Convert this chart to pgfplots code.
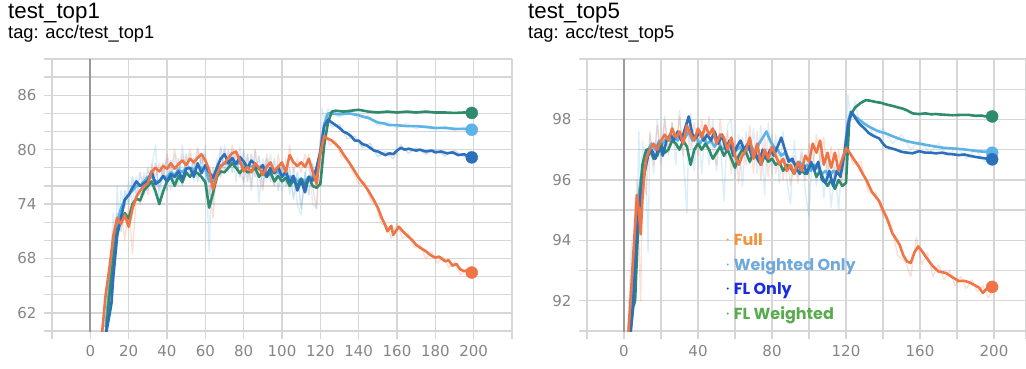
\documentclass[border=0pt]{standalone}
\usepackage{pgfplots}
\pgfplotsset{compat=1.18}
\usepackage{fontspec}
\setmainfont{Liberation Sans}
\newfontfamily\tickfont{DejaVu Sans}
\newfontfamily\legfont{Poppins}
\definecolor{cFull}{HTML}{EF7446}
\definecolor{cWO}{HTML}{5DB3E6}
\definecolor{cFLO}{HTML}{2C6FBA}
\definecolor{cFLW}{HTML}{2E8B6E}
\definecolor{gridc}{HTML}{D6D6D6}
\definecolor{zeroc}{HTML}{9A9A9A}
\definecolor{tickc}{HTML}{858585}
\definecolor{lFull}{HTML}{F2953A}
\definecolor{lWO}{HTML}{6FA8DC}
\definecolor{lFLO}{HTML}{1A2BE0}
\definecolor{lFLW}{HTML}{5AAB4F}
\pgfplotsset{
  tbstyle/.style={
    scale only axis,
    axis line style={draw=none},
    grid=both,
    major grid style={gridc, line width=1.3pt},
    minor grid style={gridc, line width=1.3pt},
    tick align=outside,
    xtick pos=bottom, ytick pos=left,
    major tick length=8pt, minor tick length=8pt,
    minor tick style={gridc, line width=1.3pt},
    major tick style={gridc, line width=1.3pt},
    /pgf/number format/assume math mode=true,
    ticklabel style={font=\tickfont\fontsize{15}{15}\selectfont, text=tickc},
    xticklabel style={yshift=-3pt},
    yticklabel style={xshift=-4pt},
    clip=true,
  },
  ln/.style={line width=2.6pt, line join=round, line cap=round, #1},
  raw/.style={line width=1.4pt, line join=round, #1, opacity=0.22},
  enddot/.style={only marks, mark=*, mark size=6pt, mark options={fill=#1, draw=#1}},
}
\begin{document}
\begin{tikzpicture}
\path[use as bounding box] (0pt,0pt) rectangle (1026pt,368pt);
\node[anchor=base west, inner sep=0pt] at (8pt,350pt) {\fontsize{22.3}{22}\selectfont test\_top1};
\node[anchor=base west, inner sep=0pt] at (8pt,330pt) {\fontsize{18.3}{18}\selectfont tag: acc/test\_top1};
\node[anchor=base west, inner sep=0pt] at (528pt,350pt) {\fontsize{22.3}{22}\selectfont test\_top5};
\node[anchor=base west, inner sep=0pt] at (528pt,330pt) {\fontsize{18.3}{18}\selectfont tag: acc/test\_top5};

% ---------------- top1 ----------------
\begin{axis}[tbstyle, at={(52pt,37pt)}, anchor=south west,
  width=460pt, height=272pt,
  xmin=-20, xmax=220, ymin=60, ymax=90,
  xtick={0,20,...,200}, minor xtick={-20,220},
  ytick={62,68,74,80,86}, minor ytick={60,64,66,70,72,76,78,82,84,88,90},
]
\draw[zeroc, line width=2pt] (axis cs:0,58.8) -- (axis cs:0,90);
\addplot[raw=cWO] coordinates {(6,59.5)(8,63)(10,66)(12,73)(13,69)(14,76)(15,72)(16,75.5)(18,73.5)(20,76.5)(22,74)(24,77)(26,75)(28,77.5)(30,75.5)(32,78)(34,80.5)(36,74)(38,77.5)(40,79)(42,75.5)(44,79.5)(46,76)(48,80.5)(50,77)(52,79.5)(54,76.5)(56,80)(58,78)(60,80.5)(62,68.8)(63,76)(64,74)(66,79)(68,77)(70,80.5)(72,77.5)(74,80)(76,76.5)(78,80.3)(80,76)(82,79.5)(84,75.5)(86,80)(88,74.2)(90,79)(92,77.5)(94,79.5)(96,76)(98,78.5)(100,75.5)(102,79)(104,75)(106,78)(108,74)(110,72.8)(112,77)(114,79.5)(116,74)(118,73.5)(120,81)(121,84.6)(122,83.5)(124,84.5)(126,84)(130,83.6)(135,84.2)(140,83.4)(145,83.8)(150,82.6)(155,83.1)(160,82.4)(165,82.9)(170,82.3)(175,82.7)(180,82.2)(185,82.6)(190,82.1)(195,82.5)(199,82.1)};
\addplot[raw=cFull] coordinates {(8,60)(10,66)(12,71)(14,70)(16,73.5)(18,70)(20,74)(22,68.5)(24,75)(26,74)(28,77)(30,75)(32,78.5)(34,77)(36,78.5)(38,77)(40,79.5)(42,77.5)(44,80)(46,77.5)(48,79.5)(50,78)(52,80)(54,78)(56,80.2)(58,78.5)(60,79.5)(62,76)(64,72.5)(66,78.5)(68,77)(70,80)(72,78)(74,80.5)(76,78.5)(78,77.5)(80,76.5)(82,79.5)(84,76)(86,80)(88,77)(90,75.5)(92,79.5)(94,77.5)(96,76)(98,79.5)(100,77)(102,76.5)(104,80.5)(106,77.5)(108,79)(110,77.5)(112,79.5)(114,78)(116,76)(118,73.5)(120,80)(122,82)(125,80.5)(128,81)(131,79.2)(134,79)(137,77.5)(140,76.2)(143,76.5)(146,74.5)(149,73.8)(152,71.8)(155,71.5)(157,70.2)(160,71.8)(163,70.2)(166,70.8)(169,69.2)(172,69.5)(175,68)(178,68.8)(181,67.5)(184,68.2)(187,67)(190,67.6)(193,66.2)(196,66.8)(199,66.2)};
\addplot[raw=cFLO] coordinates {(8,59)(10,62)(12,68)(14,73)(16,71)(18,75.5)(20,74)(22,77)(24,75)(26,77.5)(28,75)(30,78)(32,76)(34,78.5)(36,75.5)(38,78.5)(40,75.5)(42,78.8)(44,76)(46,79)(48,76)(50,79.5)(52,77)(54,79)(56,76.5)(58,79.5)(60,77)(62,75)(64,78)(66,76.5)(68,80.3)(70,77.5)(72,80)(74,77.5)(76,79.8)(78,77)(80,80)(82,76.5)(84,79.5)(86,77)(88,79.3)(90,76)(92,79)(94,76.5)(96,79)(98,75.5)(100,78.5)(102,76)(104,78)(106,74.5)(108,77.5)(110,73.5)(112,77.5)(114,75)(116,78.5)(118,76)(120,81)(123,83.8)(126,82.5)(130,82.8)(134,81.2)(138,81.5)(142,80.2)(146,80.7)(150,79.2)(154,79.8)(158,79)(162,80.5)(166,79.6)(170,80.2)(175,79.5)(180,80)(185,79.3)(190,79.9)(195,79.2)(199,79.4)};
\addplot[ln=cWO] coordinates {(8,60.5)(10,65)(12,69)(14,72)(16,73.5)(18,74.5)(20,75)(22,75.5)(24,76)(26,76)(28,76.5)(30,77)(32,77)(34,76.5)(36,76.5)(38,77)(40,77)(42,77.5)(44,77.2)(46,77.8)(48,77.5)(50,78)(52,78)(54,77.8)(56,78.2)(58,78)(60,78)(62,76.5)(64,76.5)(66,77.5)(68,78.2)(70,78.5)(72,78.5)(74,78.8)(76,78.5)(78,78.5)(80,78.3)(82,78)(84,78.2)(86,78.2)(88,78)(90,78)(92,77.5)(94,77.8)(96,77.5)(98,77.5)(100,77.2)(102,77.2)(104,77)(106,77)(108,76.5)(110,76.8)(112,76.5)(114,77)(116,77)(118,77.5)(120,79.5)(122,82.8)(124,84)(126,84)(130,83.9)(135,84)(140,83.8)(143,83.6)(145,83.5)(148,83.2)(150,83)(153,82.9)(156,82.7)(160,82.7)(165,82.6)(170,82.6)(175,82.5)(180,82.4)(185,82.4)(190,82.3)(195,82.3)(199,82.2)};
\addplot[ln=cFLW] coordinates {(8,59.5)(10,64)(12,67.8)(14,71.2)(16,72)(18,73)(20,72.4)(22,74)(24,74.6)(26,74.4)(28,75.5)(30,76)(32,76.5)(34,75.4)(36,74)(38,75.4)(40,76.5)(42,77)(44,76)(46,77.1)(48,76.4)(50,77.5)(52,77)(54,77.6)(56,77.4)(58,77)(60,76.4)(62,73.6)(64,75.2)(66,77)(68,77.6)(70,77.5)(72,78)(74,78.5)(76,78)(78,77.4)(80,78)(82,77.5)(84,77.6)(86,78)(88,77)(90,77.6)(92,77)(94,77.5)(96,76.5)(98,77.1)(100,76.5)(102,76.9)(104,76)(106,76.6)(108,76)(110,76.8)(112,76)(114,77)(116,76)(118,75.8)(120,76.2)(122,80.5)(124,83)(126,84.2)(128,84.3)(132,84.2)(136,84.3)(140,84.4)(145,84.2)(150,84.1)(155,84.2)(160,84.1)(165,84.2)(170,84.1)(175,84.2)(180,84.1)(185,84.1)(190,84.05)(195,84.1)(199,84.05)};
\addplot[ln=cFLO] coordinates {(8,59.5)(10,61.8)(11,63)(12,66)(14,70.5)(16,72.5)(18,74.5)(20,75)(22,75.8)(24,76.5)(26,76)(28,76.3)(30,76.6)(32,77.6)(34,76.2)(36,76.5)(38,77.1)(40,76.5)(42,77.3)(44,77)(46,77.6)(48,76.8)(50,77.9)(52,78)(54,77)(56,78.5)(58,77.4)(60,78.3)(62,77.5)(64,76.9)(66,78)(68,79)(70,79.5)(72,78.5)(74,79.1)(76,78.4)(78,79.2)(80,78.7)(82,78)(84,78.8)(86,78.4)(88,77.9)(90,78.3)(92,77)(94,78)(96,77.4)(98,78.1)(100,77)(102,77.6)(104,76.4)(106,77.1)(108,75.5)(110,76.6)(112,75.3)(114,77)(116,76.6)(118,78)(120,79.8)(122,82.6)(124,83.3)(126,83)(128,82.7)(130,82.4)(132,82)(134,81.8)(136,81.5)(138,81)(140,81)(142,80.6)(144,80.5)(146,80.2)(148,79.9)(150,79.8)(152,79.6)(154,79.4)(156,79.6)(158,79.5)(160,79.9)(162,80.2)(164,80)(166,80.1)(168,80)(170,79.9)(172,80)(175,79.8)(178,79.9)(180,79.7)(183,79.8)(186,79.6)(189,79.7)(192,79.4)(195,79.5)(197,79.3)(199,79.15)};
\addplot[ln=cFull] coordinates {(6,59.5)(8,64)(10,67)(12,70.5)(14,72.5)(16,71.8)(18,72.8)(20,71.5)(22,73.5)(24,74.8)(26,75.5)(28,76)(30,76.3)(32,77.6)(34,78)(36,77.6)(38,78.2)(40,77.9)(42,78.5)(44,77.9)(46,78.4)(48,78.8)(50,78.3)(52,79)(54,78.6)(56,79.1)(58,79.5)(60,78.8)(62,77.8)(64,75.6)(66,77.2)(68,78.2)(70,78.5)(72,79.1)(74,79.6)(76,79.8)(78,78.8)(80,77.6)(82,78.1)(84,77.5)(86,78.5)(88,78)(90,77.2)(92,78.1)(94,78.6)(96,77.6)(98,78.1)(100,78.6)(102,77.5)(104,79.4)(106,78.6)(108,78.2)(110,78.6)(112,78.1)(114,79)(116,77.6)(118,76.2)(119,78)(120,79.6)(122,81.5)(124,81.2)(126,81)(128,80.6)(130,80.2)(132,79.5)(135,78.6)(138,77.6)(140,76.9)(143,76.1)(145,75.5)(148,74.4)(150,73.6)(152,72.5)(154,71.6)(155,71)(157,71.6)(158,70.6)(160,71.2)(161,71.5)(163,71)(165,70.6)(168,70)(170,69.5)(172,69.2)(175,68.8)(178,68.3)(180,68.1)(182,68.2)(185,67.7)(187,67.8)(189,67.2)(191,67.4)(193,66.8)(195,66.6)(197,66.7)(199,66.45)};
\addplot[enddot=cFLW] coordinates {(199,84.05)};
\addplot[enddot=cWO] coordinates {(199,82.2)};
\addplot[enddot=cFLO] coordinates {(199,79.15)};
\addplot[enddot=cFull] coordinates {(199,66.45)};
\end{axis}

% ---------------- top5 ----------------
\begin{axis}[tbstyle, at={(587pt,37pt)}, anchor=south west,
  width=439pt, height=272pt,
  xmin=-20, xmax=217.3, ymin=91, ymax=100,
  xtick={0,40,...,200}, minor xtick={-20,20,60,100,140,180,217.3},
  ytick={92,94,96,98}, minor ytick={91,93,95,97,99,100},
]
\draw[zeroc, line width=2pt] (axis cs:0,90.6) -- (axis cs:0,100);
\addplot[raw=cWO] coordinates {(2,91)(4,94)(5,92)(6,95.5)(7,94)(8,97.6)(9,95.5)(10,97.3)(12,96)(13,93.6)(14,97.5)(16,96.2)(18,98)(20,96.5)(22,98.1)(24,96.8)(26,97.9)(28,96.5)(30,98.3)(32,96.8)(34,94.9)(35,97.5)(36,98.2)(38,96.3)(40,98)(42,96.2)(44,97.8)(46,96.5)(48,98)(50,96.3)(52,97.5)(54,95.3)(56,97.8)(58,98)(60,96)(62,97.5)(64,95.8)(66,97.6)(68,96.5)(70,97.7)(72,96.2)(74,97.8)(76,95.5)(78,97.9)(80,96.2)(82,97.5)(84,95.9)(86,97.6)(88,96)(90,95.2)(92,97.3)(94,96.1)(96,97)(98,95.6)(100,94.8)(102,97.1)(104,95.8)(106,96.9)(108,95.4)(110,96.8)(112,95.1)(114,96.5)(116,95)(118,96.8)(120,96)(121,98.8)(123,98)(125,98.6)(127,97.9)(131,97.9)(135,97.5)(140,97.7)(145,97.2)(150,97.5)(155,97.0)(160,97.3)(165,96.9)(170,97.2)(175,96.8)(180,97.1)(185,96.7)(190,97.0)(195,96.6)(199,96.8)};
\addplot[raw=cFull] coordinates {(3,91)(5,93.5)(7,96)(8,94)(9,92)(10,96.2)(12,95.5)(14,97.6)(16,96.5)(18,97.8)(20,96.8)(22,98)(24,96.9)(26,97.9)(28,97)(30,98.1)(32,96.8)(34,98)(36,97)(38,97.9)(40,96.8)(42,98)(44,97.1)(46,98.1)(48,97)(50,96.5)(52,98)(54,96.8)(56,97.6)(58,96.2)(60,97.3)(62,95.9)(64,97.4)(66,96.5)(68,97.8)(70,96.2)(72,97.6)(74,96)(76,97.4)(78,96.1)(80,97.5)(82,96.2)(84,97)(86,96)(88,96.9)(90,95.8)(92,96.8)(94,95.9)(96,96.9)(98,96)(100,97.2)(102,96.4)(104,97.5)(106,96.6)(108,97.4)(110,96.2)(112,97.1)(114,96)(116,97)(118,95.8)(120,97.2)(124,96.5)(128,96.6)(132,95.6)(136,95.6)(140,94.8)(144,94.6)(148,93.5)(152,93.3)(155,92.8)(158,94.1)(161,93.2)(164,93.6)(167,92.8)(170,93.2)(173,92.7)(176,93)(179,92.5)(182,92.8)(185,92.4)(188,92.7)(191,92.3)(194,92.5)(197,92.1)(199,92.3)};
\addplot[ln=cWO] coordinates {(3,91)(5,93)(7,95)(9,96)(11,96.8)(13,97)(15,97.2)(17,97)(19,97.3)(21,97.2)(23,97.4)(25,97.3)(27,97.5)(29,97.3)(31,97.5)(33,97.4)(35,97.6)(37,97.3)(39,97.4)(41,97.2)(43,97.4)(45,97.2)(47,97.3)(49,97.1)(51,97.3)(53,97.0)(55,97.1)(57,97.2)(59,96.9)(61,97.0)(63,97.1)(65,96.9)(67,97.0)(69,97.1)(71,96.9)(73,97.2)(75,97.4)(77,97.6)(79,97.3)(81,97.1)(83,97.0)(85,96.8)(87,96.9)(89,96.7)(91,96.6)(93,96.5)(95,96.6)(97,96.4)(99,96.5)(101,96.3)(103,96.5)(105,96.4)(107,96.2)(109,96.3)(111,96.1)(113,96.3)(115,96.2)(117,96.4)(119,96.8)(121,97.9)(122.5,98.25)(125,98.1)(128,97.95)(130,97.85)(132.5,97.76)(136,97.65)(138,97.6)(141.5,97.54)(145,97.45)(148,97.38)(150.5,97.32)(155,97.25)(159.5,97.2)(164,97.15)(168.5,97.1)(173,97.06)(177.5,97.04)(182,97.02)(186.5,96.99)(191,96.95)(195.5,96.93)(199,96.9)};
\addplot[ln=cFLW] coordinates {(3,90.6)(5,91.8)(6,92)(8,95)(10,96.5)(12,97)(14,97)(16,96.7)(18,96.8)(20,97.2)(22,96.9)(24,97.0)(26,97.3)(28,97.2)(30,97.0)(32,97.3)(34,97.1)(36,96.5)(38,97.0)(40,97.2)(42,97.0)(44,97.2)(46,97.0)(48,96.7)(50,96.9)(52,97.1)(54,96.8)(56,97.0)(58,96.7)(60,96.4)(62,96.8)(64,97.0)(66,96.9)(68,96.6)(70,96.9)(72,96.7)(74,96.5)(76,96.8)(78,96.6)(80,96.7)(82,96.5)(84,96.6)(86,96.3)(88,96.5)(90,96.4)(92,96.2)(94,96.5)(96,96.3)(98,96.2)(100,96.4)(102,96.5)(104,96.1)(106,96.3)(108,96.0)(110,95.8)(112,96.0)(114,95.7)(116,96.0)(118,95.8)(120,95.9)(121.8,98.0)(123,98.2)(125,98.4)(128,98.55)(130.8,98.64)(133,98.62)(136,98.58)(139,98.55)(141.5,98.5)(145,98.45)(148,98.4)(150.5,98.36)(153,98.3)(156,98.2)(159.5,98.18)(163,98.2)(166,98.17)(168.5,98.18)(172,98.16)(177.5,98.14)(182,98.15)(186.5,98.15)(190,98.12)(193,98.13)(195.5,98.1)(199,98.1)};
\addplot[ln=cFLO] coordinates {(3,90.6)(5,92)(7,94.3)(9,95.5)(11,96.2)(13,96.8)(15,97)(17,96.7)(19,97.2)(21,96.8)(23,97.3)(25,97.5)(27,97.3)(29,97.6)(31,97.3)(33,97.7)(35,98.1)(37,97.5)(39,97.4)(41,97.6)(43,97.3)(45,97.5)(47,97.3)(49,97.6)(51,97.2)(53,97.5)(55,97.0)(57,97.3)(59,96.8)(61,97.1)(63,97.3)(65,97.0)(67,97.2)(69,96.8)(71,96.9)(73,96.6)(75,97.0)(77,96.7)(79,97.0)(81,96.8)(83,97.1)(85,97.4)(87,97.0)(89,96.6)(91,96.7)(93,96.4)(95,96.2)(97,96.5)(99,96.2)(101,96.6)(103,96.3)(105,96.6)(107,96.0)(109,95.9)(111,96.3)(113,95.8)(115,96.3)(117,96.1)(119,96.8)(121,97.8)(123,98.25)(125,98.05)(127,97.87)(130,97.7)(132.5,97.54)(135,97.45)(138,97.37)(140,97.2)(141.5,97.1)(144,97.05)(147,97.0)(150,96.93)(153,96.9)(156,96.88)(159.5,96.95)(163,96.9)(166,96.9)(168.5,96.88)(172,96.9)(175,96.86)(177.5,96.85)(181,96.82)(184,96.84)(186.5,96.8)(190,96.76)(193,96.73)(195.5,96.71)(199,96.68)};
\addplot[ln=cFull] coordinates {(2,90.6)(4,92.5)(6,94.5)(7,95.5)(8,95)(9,94.2)(10,95.4)(11,96.2)(12,96.7)(14,97)(16,97.2)(18,97)(20,97.3)(22,97.5)(24,97.3)(26,97.7)(28,97.4)(30,97.6)(32,97.2)(34,97.8)(36,97.5)(38,97.3)(40,97.7)(42,97.4)(44,97.8)(46,97.5)(48,97.7)(50,97.2)(52,97.5)(54,97.4)(56,97.0)(58,97.4)(60,96.8)(62,96.5)(64,96.8)(66,97.0)(68,97.4)(70,96.7)(72,97.2)(74,96.5)(76,97)(78,96.7)(80,97.1)(82,96.8)(84,96.5)(86,96.7)(88,96.3)(90,96.5)(92,96.2)(94,96.6)(96,96.3)(98,96.8)(100,96.6)(102,97.2)(104,96.9)(106,97.3)(108,96.5)(110,96.9)(112,96.4)(114,96.9)(116,96.3)(118,96.7)(120,97.05)(122,96.9)(124,96.7)(127,96.44)(129,96.2)(131,96)(134,95.6)(136,95.45)(138,95.29)(140,95)(142,94.75)(145,94.24)(147,94.05)(149,93.85)(151,93.5)(153,93.3)(155,93.25)(157,93.6)(159,93.8)(161,93.65)(163,93.47)(165,93.3)(167,93.14)(170,92.97)(174,92.92)(177,92.8)(181,92.65)(184,92.66)(187,92.6)(190,92.5)(192,92.43)(194,92.26)(196,92.4)(199,92.46)};
\addplot[enddot=cFLW] coordinates {(199,98.1)};
\addplot[enddot=cWO] coordinates {(199,96.9)};
\addplot[enddot=cFLO] coordinates {(199,96.68)};
\addplot[enddot=cFull] coordinates {(199,92.46)};
\end{axis}

% legend
\node[anchor=base west, inner sep=0pt, text=lFull] at (726pt,123pt) {\legfont\fontsize{16}{16}\selectfont\textperiodcentered\ \textbf{Full}};
\node[anchor=base west, inner sep=0pt, text=lWO] at (726pt,98pt) {\legfont\fontsize{16}{16}\selectfont\textperiodcentered\ \textbf{Weighted Only}};
\node[anchor=base west, inner sep=0pt, text=lFLO] at (726pt,74pt) {\legfont\fontsize{16}{16}\selectfont\textperiodcentered\ \textbf{FL Only}};
\node[anchor=base west, inner sep=0pt, text=lFLW] at (726pt,49pt) {\legfont\fontsize{16}{16}\selectfont\textperiodcentered\ \textbf{FL Weighted}};
\end{tikzpicture}
\end{document}
